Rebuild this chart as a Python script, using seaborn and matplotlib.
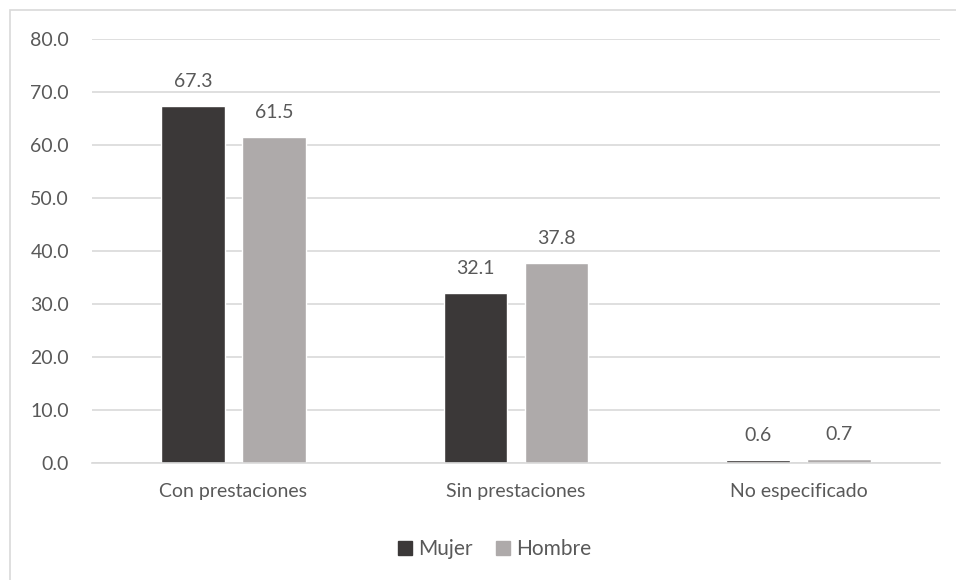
import matplotlib
matplotlib.use("Agg")
import matplotlib.pyplot as plt
import matplotlib.patches as mpatches
import seaborn as sns
import pandas as pd

categories = ["Con prestaciones", "Sin prestaciones", "No especificado"]
mujer = [67.3, 32.1, 0.6]
hombre = [61.5, 37.8, 0.7]
series = ["Mujer", "Hombre"]
colors = {"Mujer": "#3b3838", "Hombre": "#aeaaaa"}

df = pd.DataFrame({
    "categoria": categories * 2,
    "valor": mujer + hombre,
    "sexo": ["Mujer"] * 3 + ["Hombre"] * 3,
})

sns.set_theme(style="white")
plt.rcParams["font.family"] = ["Lato", "DejaVu Sans"]
text_color = "#595959"

W, H = 956, 580
fig = plt.figure(figsize=(W / 100, H / 100), dpi=100)
fig.patch.set_facecolor("white")

# chart-area frame
fig.patches.append(mpatches.Rectangle((10 / W, -0.1), 1.2, 1 - 10 / H + 0.1,
                                      transform=fig.transFigure, fill=False,
                                      edgecolor="#d9d9d9", linewidth=1.2))

ax = fig.add_axes([92 / W, 1 - 463 / H, (940 - 92) / W, (463 - 39) / H])
sns.barplot(data=df, x="categoria", y="valor", hue="sexo", order=categories,
            hue_order=series, palette=colors, width=0.573, gap=0.21,
            saturation=1, ax=ax, legend=True)

ax.set_ylim(0, 80)
ax.set_yticks(range(0, 81, 10))
ax.set_yticklabels([f"{v:.1f}" for v in range(0, 81, 10)])
ax.yaxis.grid(True, color="#d9d9d9", linewidth=1.2)
ax.set_axisbelow(True)
for s in ["top", "right", "left"]:
    ax.spines[s].set_visible(False)
ax.spines["bottom"].set_color("#d9d9d9")
ax.spines["bottom"].set_linewidth(1.2)
ax.set_xlabel("")
ax.set_ylabel("")
ax.tick_params(axis="both", length=0, labelsize=14, labelcolor=text_color)
ax.tick_params(axis="y", pad=16.5)
ax.tick_params(axis="x", pad=14.5)

for cont in ax.containers:
    ax.bar_label(cont, fmt="%.1f", padding=11.5, fontsize=14, color=text_color)

ax.legend(handles=[mpatches.Patch(color=colors[s], label=s) for s in series],
          loc="center", bbox_to_anchor=((494.5 - 92) / (940 - 92), -(549 - 463) / (463 - 39)),
          ncol=2, frameon=False, fontsize=15, labelcolor=text_color,
          handlelength=0.68, handleheight=0.68, handletextpad=0.3,
          columnspacing=1.1)

fig.savefig("out.png", dpi=100, facecolor="white")
